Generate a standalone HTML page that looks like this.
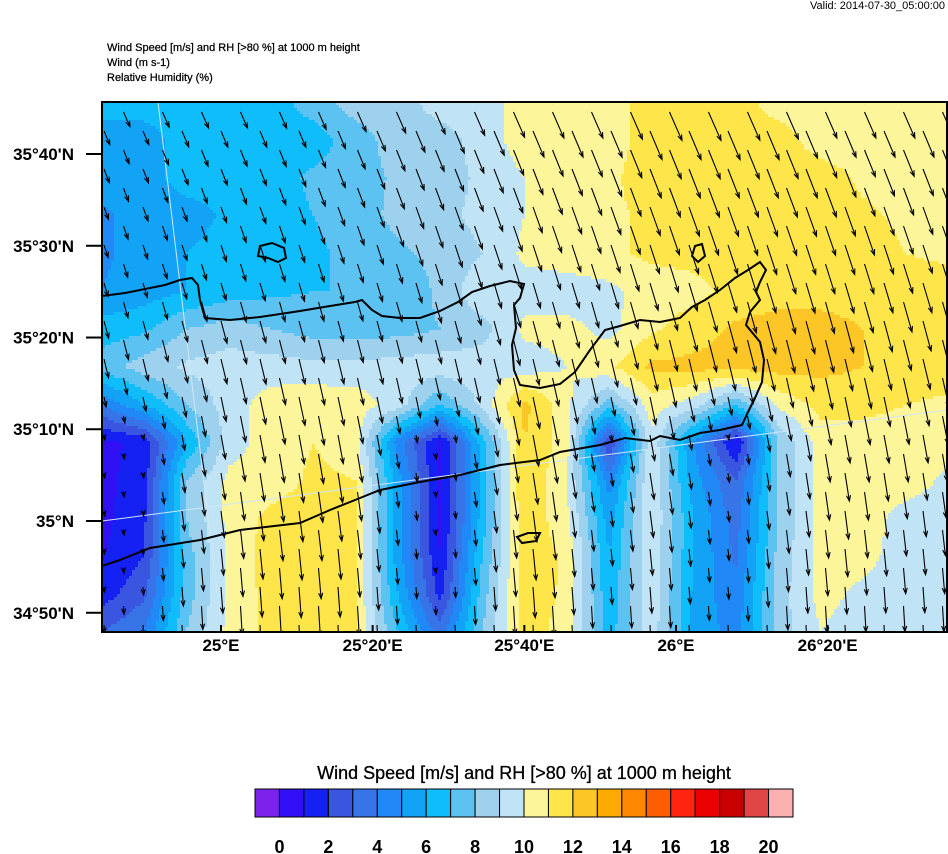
<!DOCTYPE html>
<html><head><meta charset="utf-8"><style>
body{margin:0;background:#fff;}
svg{display:block;font-family:"Liberation Sans",sans-serif;}
</style></head><body>
<svg id="chart" width="948" height="854" viewBox="0 0 948 854">
<rect width="948" height="854" fill="#fff"/>
<text x="945" y="9" text-anchor="end" font-size="11">Valid: 2014-07-30_05:00:00</text>
<text x="107" y="51" font-size="11" stroke="#000" stroke-width="0.25">Wind Speed [m/s] and RH [&gt;80 %] at 1000 m height</text>
<text x="107" y="66" font-size="11" stroke="#000" stroke-width="0.25">Wind   (m s-1)</text>
<text x="107" y="81" font-size="11" stroke="#000" stroke-width="0.25">Relative Humidity    (%)</text>
<defs><clipPath id="mapclip"><rect x="102" y="102" width="845" height="530"/></clipPath></defs>
<g id="field" clip-path="url(#mapclip)"></g>
<g clip-path="url(#mapclip)">
<line x1="158" y1="102" x2="222" y2="632" stroke="#cfe6f7" stroke-width="1"/>
<line x1="102" y1="521" x2="947" y2="410" stroke="#cfe6f7" stroke-width="1"/>
</g>
<g clip-path="url(#mapclip)" fill="none" stroke="#000" stroke-width="2">
<path d="M102,296 L125,293 L150,288 L165,285 L180,280 L192,278 L198,285 L200,300 L205,318 L230,320 L260,317 L300,311 L330,306 L355,302 L362,300 L372,310 L382,316 L400,318 L420,318 L440,311 L458,302 L472,292 L490,286 L510,281 L524,284 L520,298 L514,305 L516,328 L512,345 L514,370 L520,385 L540,388 L560,384 L575,372 L590,350 L605,330 L620,326 L640,320 L660,322 L680,318 L692,307 L705,300 L720,290 L735,278 L748,270 L760,262 L766,270 L760,282 L756,292 L760,300 L750,312 L746,325 L760,342 L764,360 L762,382 L755,398 L748,412 L742,425 L720,430 L700,433 L680,440 L660,436 L650,441 L625,438 L600,445 L560,452 L540,460 L500,465 L460,475 L420,482 L380,490 L360,498 L330,510 L300,523 L240,530 L200,540 L150,548 L120,560 L102,566"/>
<path d="M260,246 L272,243 L284,248 L286,258 L278,262 L268,258 L258,256 Z"/>
<path d="M517,537 L528,533 L540,533 L536,541 L522,543 Z"/>
<path d="M695,246 L702,244 L705,256 L698,262 L692,256 Z"/>
</g>
<g id="arrows" clip-path="url(#mapclip)" stroke="#000" stroke-width="1.1" fill="none"></g>
<rect x="102" y="102" width="845" height="530" fill="none" stroke="#000" stroke-width="2"/>
<g id="axes" font-size="17" font-weight="bold"></g>
<text x="524" y="779" text-anchor="middle" font-size="18" stroke="#000" stroke-width="0.3">Wind Speed [m/s] and RH [&gt;80 %] at 1000 m height</text>
<g id="cbar"></g>
</svg>
<script>
const levelColors=["#7c22ec","#3210f5","#1521f2","#3a55e0","#3674e8","#2188f7","#12a3f6","#0ebdf9","#5cc2f2","#9ed1ee","#c0e3f6","#fdf59a","#fee54a","#fdc627","#fdaa00","#fd8800","#fd5c00","#fe2410","#ea0000","#c80000","#e04545","#fdb0b0"];
const cbarLabels=["0","2","4","6","8","10","12","14","16","18","20"];
const latLabels=["35°40'N","35°30'N","35°20'N","35°10'N","35°N","34°50'N"];
const latValues=[35.6667,35.5,35.3333,35.1667,35.0,34.8333];
const lonLabels=["25°E","25°20'E","25°40'E","26°E","26°20'E"];
const lonValues=[25.0,25.3333,25.6667,26.0,26.3333];
// wind speed (m/s) on a 21 x 15 node grid, rows north->south
const speedRows=[
[6.5,6.5,6.5,6.5,6.5,7.5,8.5,8.5,9.5,9.5,10.5,10.5,10.5,11.5,11.5,11.5,10.5,10.5,10.5,10.5,10.5],
[5.5,5.5,6.5,6.5,6.5,6.5,7.5,8.5,8.5,9.5,10.5,10.5,10.5,11.5,11.5,11.5,11.5,10.5,10.5,10.5,10.5],
[5.5,5.5,6.5,6.5,6.5,7.2,7.5,8.2,8.5,9.2,10,10.5,10.8,11.5,11.5,11.5,11.5,11.5,10.8,10.5,10.5],
[4.8,5.5,5.5,6.2,6.5,7,7.5,8.3,8.7,9.3,10,10.5,10.8,11.2,11.5,11.5,11.5,11.5,11.2,10.8,10.5],
[4.8,5.5,6,6.5,6.5,6.8,7.3,7.8,8.3,9,10.2,10.5,10.8,11.2,11.3,11.4,11.5,11.5,11.5,11,10.8],
[5,5.5,6,6.5,6.8,7,7,7.2,8.2,9.8,9.6,9.5,9.7,10.5,10.7,11.3,11.5,11.5,11.5,11.5,11.5],
[6.5,6.8,8,8.5,8,7.6,7.5,7.6,8,8.6,10.2,10.3,9.7,10.8,11.5,12.2,12.5,12.5,12,11.5,11.5],
[7.5,8.5,9.2,9.5,9.5,9.3,9.3,9.5,9.6,9.6,9.5,10,10.8,12.2,12.3,12.4,12.4,12.3,12,11.6,11.5],
[4,6,8,9.5,10.5,10.8,10.6,9.5,7,9.3,12.3,10.3,7.5,10.5,9.5,7,10.2,11.3,11.3,11,10.8],
[0.8,1.2,6,9.5,10.5,11,10.5,4.5,0.7,6.5,12,10.5,1.8,9.8,5,0.8,8,10.5,10.5,10.5,10.5],
[0.7,1.5,8,10.3,10.5,11.2,11,5.5,0.7,6.5,12,10,4.5,10,5.5,3,8,10.5,10.5,10.5,9.8],
[0.7,1.8,8,10.3,11.3,11.5,11,5.5,0.7,6.5,11.8,10.3,5.5,10,6,3.5,8,10.5,10.5,9.6,9.5],
[0.9,2,7.5,10.2,11.5,11.5,11,5.5,1,7,11.7,10.8,6,9.8,6,3.8,8.3,10.4,10.3,9.6,9.5],
[1.5,2.8,7.5,10.2,11.4,11.4,11,6,1.6,7.5,11.6,10.8,6.2,9.8,5.8,4.2,8.5,10.3,9.8,9.5,9.5],
[3,4,8,10.3,11.3,11.3,11,7,3.5,8,11.5,10.6,6.5,9.6,5.8,4.5,8.5,10,9.5,9.5,9.5]];
const NS="http://www.w3.org/2000/svg";
const X0=102,X1=947,Y0=102,Y1=632;
const nCols=speedRows[0].length,nRows=speedRows.length;
const lonScale=v=>221+(v-25)*(676-221);
const latScale=v=>521-(v-35)*(521-154)/0.6667;
function sampleSpeed(x,y){
  const gx=(x-X0)/(X1-X0)*(nCols-1), gy=(y-Y0)/(Y1-Y0)*(nRows-1);
  const i=Math.max(0,Math.min(nCols-2,Math.floor(gx))), j=Math.max(0,Math.min(nRows-2,Math.floor(gy)));
  const fx=Math.min(1,Math.max(0,gx-i)), fy=Math.min(1,Math.max(0,gy-j));
  const a=speedRows[j][i],b=speedRows[j][i+1],c=speedRows[j+1][i],d=speedRows[j+1][i+1];
  return (a*(1-fx)+b*fx)*(1-fy)+(c*(1-fx)+d*fx)*fy;
}
function colorFor(v){let k=Math.floor(v)+1;k=Math.max(0,Math.min(levelColors.length-1,k));return levelColors[k];}
const field=document.getElementById('field');
const cs=3;
for(let y=Y0;y<Y1;y+=cs){for(let x=X0;x<X1;x+=cs){
  const r=document.createElementNS(NS,'rect');
  r.setAttribute('x',x);r.setAttribute('y',y);r.setAttribute('width',cs+0.5);r.setAttribute('height',cs+0.5);
  r.setAttribute('fill',colorFor(sampleSpeed(x+cs/2,y+cs/2)));
  
  
  field.appendChild(r);
}}
const arrows=document.getElementById('arrows');
let row=0;
for(let y=112;y<Y1;y+=19,row++){
  for(let x=104+(row%2?0:19.5);x<X1+10;x+=39){
    const v=sampleSpeed(x,y+12);
    const L=Math.max(5,v*2.7);
    const t=(y-Y0)/(Y1-Y0);
    const ang=0.42*(1-t)+0.04*t;
    const dx=Math.sin(ang)*L, dy=Math.cos(ang)*L;
    const x2=x+dx,y2=y+dy;
    const h=6, ux=dx/L, uy=dy/L;
    const p=document.createElementNS(NS,'path');
    const hx1=x2-h*(ux*0.94-uy*0.34),hy1=y2-h*(uy*0.94+ux*0.34);
    const hx2=x2-h*(ux*0.94+uy*0.34),hy2=y2-h*(uy*0.94-ux*0.34);
    p.setAttribute('d',`M${x},${y}L${x2},${y2}M${hx1},${hy1}L${x2},${y2}L${hx2},${hy2}`);
    
    
    arrows.appendChild(p);
  }
}
const axes=document.getElementById('axes');
latLabels.forEach((lab,i)=>{
  const y=latScale(latValues[i]);
  const l=document.createElementNS(NS,'line');
  l.setAttribute('x1',86);l.setAttribute('x2',102);l.setAttribute('y1',y);l.setAttribute('y2',y);l.setAttribute('stroke','#000');l.setAttribute('stroke-width','2');
  
  
  axes.appendChild(l);
  const t=document.createElementNS(NS,'text');
  t.setAttribute('x',74);t.setAttribute('y',y+6);t.setAttribute('text-anchor','end');t.textContent=lab;
  
  
  axes.appendChild(t);
});
lonLabels.forEach((lab,i)=>{
  const x=lonScale(lonValues[i]);
  const l=document.createElementNS(NS,'line');
  l.setAttribute('x1',x);l.setAttribute('x2',x);l.setAttribute('y1',632);l.setAttribute('y2',625);l.setAttribute('stroke','#000');l.setAttribute('stroke-width','2');
  
  
  axes.appendChild(l);
  const t=document.createElementNS(NS,'text');
  t.setAttribute('x',x);t.setAttribute('y',651);t.setAttribute('text-anchor','middle');t.textContent=lab;
  
  
  axes.appendChild(t);
});
const cbar=document.getElementById('cbar');
const cbX=255,cbW=538,cbY=789,cbH=28,bw=cbW/levelColors.length;
levelColors.forEach((c,i)=>{
  const r=document.createElementNS(NS,'rect');
  r.setAttribute('x',cbX+i*bw);r.setAttribute('y',cbY);r.setAttribute('width',bw);r.setAttribute('height',cbH);
  r.setAttribute('fill',c);r.setAttribute('stroke','#000');r.setAttribute('stroke-width','1');
  
  
  cbar.appendChild(r);
});
cbarLabels.forEach((lab,i)=>{
  const t=document.createElementNS(NS,'text');
  t.setAttribute('x',cbX+(1+2*i)*bw);t.setAttribute('y',853);t.setAttribute('text-anchor','middle');
  t.setAttribute('font-size','18');t.setAttribute('font-weight','bold');t.textContent=lab;
  
  
  cbar.appendChild(t);
});
</script>
</body></html>
